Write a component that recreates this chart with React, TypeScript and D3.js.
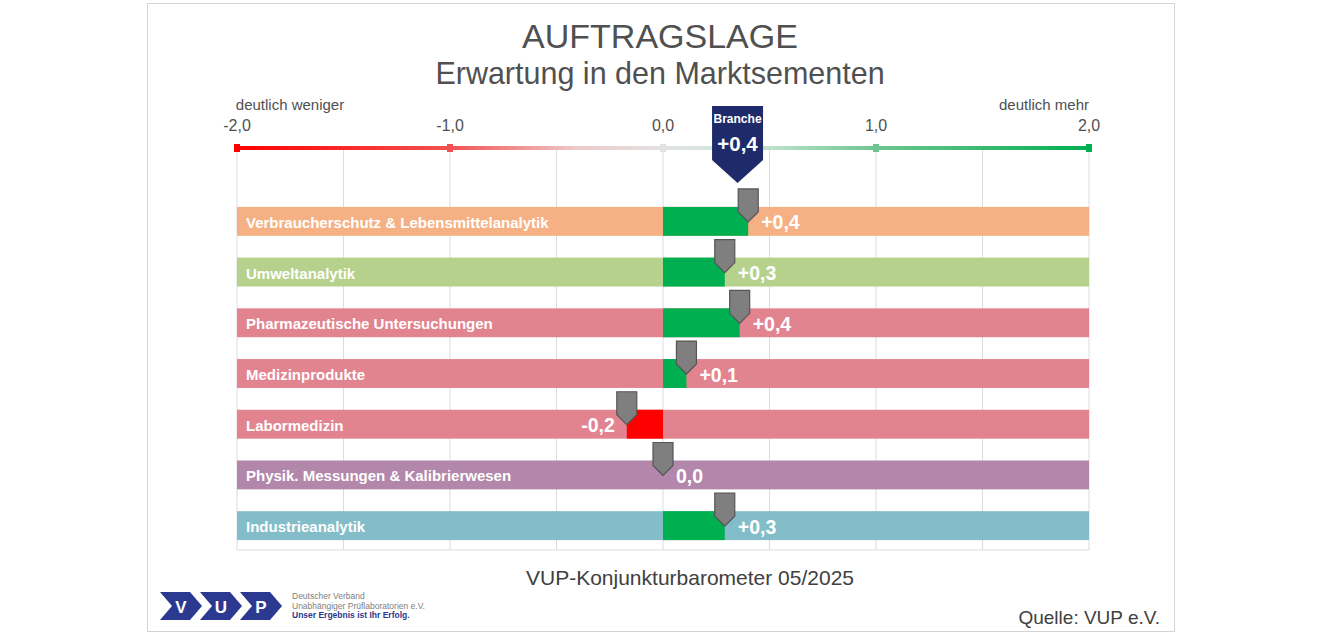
import React from 'react';
import * as d3 from 'd3';

// Market segments, top to bottom
const segments = [
  'Verbraucherschutz & Lebensmittelanalytik',
  'Umweltanalytik',
  'Pharmazeutische Untersuchungen',
  'Medizinprodukte',
  'Labormedizin',
  'Physik. Messungen & Kalibrierwesen',
  'Industrieanalytik',
];
const expectations = [0.4, 0.29, 0.36, 0.11, -0.17, 0.0, 0.29];
const segmentColors = ['#f5b183', '#b6d18b', '#e2848f', '#e2848f', '#e2848f', '#b287ab', '#82bdc9'];
const industryValue = 0.35;
const axisTicks = [-2, -1, 0, 1, 2];
const gridTicks = [-2, -1.5, -1, -0.5, 0, 0.5, 1, 1.5, 2];

const W = 1320;
const H = 636;
const plot = { left: 237, right: 1089, top: 150, bottom: 550 };

const fmt = (v: number) => {
  const r = Math.round(Math.abs(v) * 10) / 10;
  const s = r.toFixed(1).replace('.', ',');
  if (r === 0) return s;
  return (v > 0 ? '+' : '-') + s;
};

const x = d3.scaleLinear().domain([-2, 2]).range([plot.left, plot.right]);
const y = d3.scaleBand<string>().domain(segments).range([196, 551]).paddingInner(0.43).paddingOuter(0.215);

// colour ramp of the scale line (red → grey → green)
const ramp = d3.scaleLinear<string>()
  .domain([-2, -1, -0.4, 0, 0.4, 1, 2])
  .range(['#ff0000', '#f25252', '#eecaca', '#e2e2e2', '#cce7d5', '#6fc591', '#00b050']);

const markerPath = (tipX: number, tipY: number) => {
  const w = 10;
  return `M${tipX - w},${tipY - 33} L${tipX + w},${tipY - 33} L${tipX + w},${tipY - 10} L${tipX},${tipY} L${tipX - w},${tipY - 10} Z`;
};

const chevron = (x0: number, y0: number) => {
  const w = 30, h = 28, p = 12;
  return `M${x0},${y0} L${x0 + w},${y0} L${x0 + w + p},${y0 + h / 2} L${x0 + w},${y0 + h} L${x0},${y0 + h} L${x0 + p},${y0 + h / 2} Z`;
};

export default function App() {
  const font = 'Liberation Sans, Arial, sans-serif';
  const bx = x(industryValue);
  const gradStops = d3.range(0, 1.0001, 0.05).map(t => ({ t, c: ramp(-2 + 4 * t) }));

  return (
    <svg width={W} height={H} style={{ position: 'absolute', left: 0, top: 0, fontFamily: font }}>
      <defs>
        <linearGradient id="scaleGrad" gradientUnits="userSpaceOnUse" x1={plot.left} x2={plot.right} y1={0} y2={0}>
          {gradStops.map(s => <stop key={s.t} offset={s.t} stopColor={s.c} />)}
        </linearGradient>
      </defs>
      <rect x={0} y={0} width={W} height={H} fill="#fff" />
      <rect x={147.5} y={3.5} width={1027} height={628} fill="#fff" stroke="#d4d4d4" />

      <text x={660} y={48} textAnchor="middle" fontSize={34} fill="#505050">AUFTRAGSLAGE</text>
      <text x={660} y={84} textAnchor="middle" fontSize={30.5} fill="#505050">Erwartung in den Marktsementen</text>

      <text x={290} y={110} textAnchor="middle" fontSize={15} fill="#505050">deutlich weniger</text>
      <text x={1089} y={110} textAnchor="end" fontSize={15} fill="#505050">deutlich mehr</text>
      {axisTicks.map(t => (
        <text key={t} x={x(t)} y={131} textAnchor="middle" fontSize={16} fill="#505050">{fmt(t).replace('+', '')}</text>
      ))}

      {gridTicks.map(t => (
        <line key={t} x1={x(t)} x2={x(t)} y1={plot.top} y2={plot.bottom} stroke="#dcdcdc" strokeWidth={1} />
      ))}
      <line x1={plot.left} x2={plot.right} y1={plot.bottom} y2={plot.bottom} stroke="#dcdcdc" />

      <line x1={plot.left} x2={plot.right} y1={148} y2={148} stroke="url(#scaleGrad)" strokeWidth={4} />
      {axisTicks.map(t => (
        <rect key={t} x={x(t) - 3} y={144} width={6} height={8} fill={ramp(t)} />
      ))}

      {segments.map((s, i) => {
        const top = y(s) as number;
        const bw = y.bandwidth();
        const v = expectations[i];
        const tipX = x(v);
        const tipY = top + 15;
        return (
          <g key={s}>
            <rect x={plot.left} y={top} width={plot.right - plot.left} height={bw} fill={segmentColors[i]} />
            {v !== 0 && (
              <rect x={Math.min(x(0), tipX)} y={top} width={Math.abs(tipX - x(0))} height={bw}
                fill={v > 0 ? '#00b050' : '#ff0000'} />
            )}
            <text x={246} y={top + bw / 2 + 6.5} fontSize={15} fontWeight="bold" fill="#fff">{s}</text>
            <path d={markerPath(tipX, tipY)} fill="#7f7f7f" stroke="#555" strokeWidth={1.2} />
            <text x={v < 0 ? tipX - 12 : tipX + 13} y={top + bw / 2 + 8} fontSize={19.5} fontWeight="bold"
              fill="#fff" textAnchor={v < 0 ? 'end' : 'start'}>{fmt(v)}</text>
          </g>
        );
      })}

      <path d={`M${bx - 25.5},106 L${bx + 25.5},106 L${bx + 25.5},160 L${bx},183 L${bx - 25.5},160 Z`} fill="#1f2a6b" />
      <text x={bx} y={123} textAnchor="middle" fontSize={12} fontWeight="bold" fill="#fff">Branche</text>
      <text x={bx} y={151} textAnchor="middle" fontSize={20.5} fontWeight="bold" fill="#fff">{fmt(industryValue)}</text>

      <text x={690} y={585} textAnchor="middle" fontSize={21} fill="#404040">VUP-Konjunkturbarometer 05/2025</text>
      <text x={1160} y={624} textAnchor="end" fontSize={19} fill="#404040">Quelle: VUP e.V.</text>

      <g>
        {['V', 'U', 'P'].map((l, i) => (
          <g key={l}>
            <path d={chevron(160 + i * 40, 592)} fill="#2b3990" />
            <text x={160 + i * 40 + 21} y={613} textAnchor="middle" fontSize={17} fontWeight="bold" fill="#fff">{l}</text>
          </g>
        ))}
        <text x={292} y={599} fontSize={8.5} fill="#808080">Deutscher Verband</text>
        <text x={292} y={608.5} fontSize={8.5} fill="#808080">Unabhängiger Prüflaboratorien e.V.</text>
        <text x={292} y={618} fontSize={8.5} fontWeight="bold" fill="#2b3990">Unser Ergebnis ist Ihr Erfolg.</text>
      </g>
    </svg>
  );
}
